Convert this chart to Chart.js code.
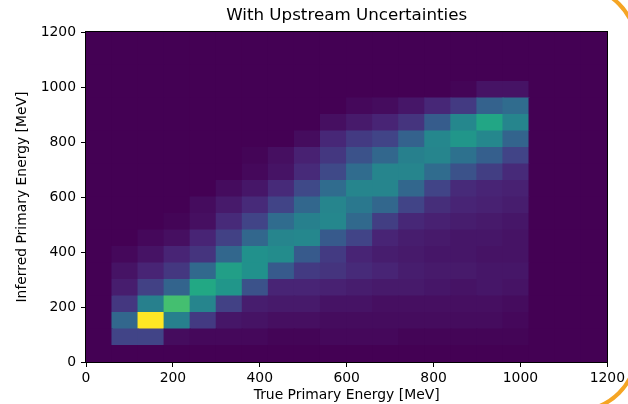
<!DOCTYPE html>
<html>
<head>
<meta charset="utf-8">
<title>With Upstream Uncertainties</title>
<script src="https://cdn.jsdelivr.net/npm/chart.js@4.4.1/dist/chart.umd.min.js"></script>
<style>
  html, body { margin: 0; padding: 0; background: #fff; }
  #wrap { position: relative; width: 628px; height: 404px; overflow: hidden; }
  #ring {
    position: absolute; left: -100px; top: -15px; width: 738px; height: 427px;
    border: 4px solid #f5a524; border-radius: 60px; box-sizing: border-box;
  }
  canvas { position: absolute; left: 0; top: 0; }
</style>
</head>
<body>
<div id="wrap">
  <div id="ring"></div>
  <canvas id="histChart" width="628" height="404"></canvas>
</div>
<script>
// bin edges in MeV (same for true and inferred energy)
const binEdges = [0, 60, 120, 180, 240, 300, 360, 420, 480, 540, 600,
  660, 720, 780, 840, 900, 960, 1020, 1080, 1140, 1200];
const energyTicks = [0, 200, 400, 600, 800, 1000, 1200];

// counts per bin, one array per inferred-energy row (bottom row first),
// each array runs along true energy
const countsByRow = [
  [0, 0, 0, 0, 0, 0, 0, 0, 0, 0, 0, 0, 0, 0, 0, 0, 0, 0, 0, 0],
  [0, 20, 20, 3, 2, 2, 2, 1, 1, 2, 2, 2, 1, 1, 1, 1, 1, 0, 0, 0],
  [0, 33, 100, 43, 17, 6, 5, 4, 4, 3, 3, 3, 3, 3, 3, 3, 2, 0, 0, 0],
  [0, 16, 43, 70, 45, 19, 8, 7, 7, 5, 5, 4, 4, 4, 4, 4, 3, 0, 0, 0],
  [0, 8, 19, 32, 60, 52, 25, 10, 10, 9, 8, 7, 7, 6, 5, 6, 5, 0, 0, 0],
  [0, 5, 10, 16, 34, 56, 50, 28, 17, 15, 12, 10, 8, 7, 7, 6, 6, 0, 0, 0],
  [0, 2, 5, 10, 15, 33, 50, 48, 28, 17, 10, 8, 7, 6, 6, 5, 5, 0, 0, 0],
  [0, 0, 2, 4, 10, 19, 33, 45, 46, 28, 20, 10, 8, 7, 6, 6, 5, 0, 0, 0],
  [0, 0, 0, 1, 4, 12, 20, 35, 43, 46, 34, 18, 11, 9, 8, 7, 6, 0, 0, 0],
  [0, 0, 0, 0, 3, 7, 12, 20, 33, 45, 40, 33, 20, 13, 10, 9, 8, 0, 0, 0],
  [0, 0, 0, 0, 0, 3, 6, 12, 22, 35, 45, 45, 33, 20, 12, 10, 9, 0, 0, 0],
  [0, 0, 0, 0, 0, 0, 2, 5, 12, 22, 35, 45, 45, 35, 25, 18, 12, 0, 0, 0],
  [0, 0, 0, 0, 0, 0, 1, 4, 9, 16, 25, 33, 43, 45, 37, 30, 20, 0, 0, 0],
  [0, 0, 0, 0, 0, 0, 0, 0, 3, 11, 17, 20, 31, 46, 52, 46, 32, 0, 0, 0],
  [0, 0, 0, 0, 0, 0, 0, 0, 0, 4, 7, 10, 15, 29, 46, 59, 45, 0, 0, 0],
  [0, 0, 0, 0, 0, 0, 0, 0, 0, 0, 2, 3, 6, 11, 17, 31, 35, 0, 0, 0],
  [0, 0, 0, 0, 0, 0, 0, 0, 0, 0, 0, 0, 0, 0, 1, 5, 5, 0, 0, 0],
  [0, 0, 0, 0, 0, 0, 0, 0, 0, 0, 0, 0, 0, 0, 0, 0, 0, 0, 0, 0],
  [0, 0, 0, 0, 0, 0, 0, 0, 0, 0, 0, 0, 0, 0, 0, 0, 0, 0, 0, 0],
  [0, 0, 0, 0, 0, 0, 0, 0, 0, 0, 0, 0, 0, 0, 0, 0, 0, 0, 0, 0]
];

// viridis colour map stops
const viridisStops = [
  [68, 1, 84], [72, 36, 117], [65, 68, 135], [53, 95, 141], [42, 120, 142],
  [33, 145, 140], [34, 168, 132], [68, 191, 112], [122, 209, 81],
  [189, 223, 38], [253, 231, 37]
];

function viridis(t) {
  t = Math.min(1, Math.max(0, t));
  const pos = t * (viridisStops.length - 1);
  const i = Math.min(Math.floor(pos), viridisStops.length - 2);
  const f = pos - i;
  const a = viridisStops[i];
  const b = viridisStops[i + 1];
  const c = a.map((v, k) => Math.round(v + (b[k] - v) * f));
  return `rgb(${c[0]}, ${c[1]}, ${c[2]})`;
}

const maxCount = Math.max(...countsByRow.flat());
const binCenters = binEdges.slice(0, -1).map((e, i) => (e + binEdges[i + 1]) / 2);

const datasets = countsByRow.map((row, j) => ({
  label: binEdges[j] + "-" + binEdges[j + 1] + " MeV",
  data: row.map(() => [binEdges[j], binEdges[j + 1]]),
  backgroundColor: row.map((c) => viridis(c / maxCount)),
  borderWidth: 0,
  inflateAmount: 0.6,
  barPercentage: 1,
  categoryPercentage: 1,
  grouped: false,
}));

const framePlugin = {
  id: "frame",
  afterDatasetsDraw(chart) {
    const { ctx, chartArea } = chart;
    ctx.save();
    ctx.strokeStyle = "#000";
    ctx.lineWidth = 1;
    ctx.strokeRect(
      Math.round(chartArea.left) - 0.5,
      Math.round(chartArea.top) - 0.5,
      Math.round(chartArea.right - chartArea.left) + 1,
      Math.round(chartArea.bottom - chartArea.top) + 1
    );
    ctx.restore();
  },
};

Chart.defaults.font.family = "'DejaVu Sans', sans-serif";
Chart.defaults.color = "#000";

const useTicks = (scale) => {
  scale.ticks = energyTicks.map((v) => ({ value: v }));
};

const ctx = document.getElementById("histChart").getContext("2d");

new Chart(ctx, {
  type: "bar",
  data: {
    labels: binCenters,
    datasets: datasets,
  },
  options: {
    responsive: false,
    animation: false,
    layout: { padding: { left: 0, right: 20, top: 0, bottom: 0 } },
    plugins: {
      legend: { display: false },
      tooltip: { enabled: false },
      title: {
        display: true,
        text: "With Upstream Uncertainties",
        fullSize: false,
        font: { size: 16.7, weight: "normal" },
        padding: { top: 6, bottom: 6 },
      },
    },
    scales: {
      x: {
        type: "category",
        offset: true,
        display: false,
      },
      x2: {
        type: "linear",
        position: "bottom",
        min: 0,
        max: 1200,
        offset: false,
        afterBuildTicks: useTicks,
        afterFit: (s) => { s.height = 42; },
        grid: { offset: false, drawOnChartArea: false, tickLength: 5, color: "#000", lineWidth: 1 },
        border: { display: false },
        ticks: {
          font: { size: 13.9 },
          padding: 3,
          maxRotation: 0,
          callback: (v) => String(v),
        },
        title: {
          display: true,
          text: "True Primary Energy [MeV]",
          font: { size: 13.9 },
          padding: { top: 0, bottom: 0 },
        },
      },
      y: {
        type: "linear",
        min: 0,
        max: 1200,
        afterBuildTicks: useTicks,
        afterFit: (s) => { s.width = 86; },
        grid: { drawOnChartArea: false, tickLength: 5, color: "#000", lineWidth: 1 },
        border: { display: false },
        ticks: { font: { size: 13.9 }, padding: 5, callback: (v) => String(v) },
        title: {
          display: true,
          text: "Inferred Primary Energy [MeV]",
          font: { size: 13.9 },
          padding: { top: 14, bottom: 0 },
        },
      },
    },
  },
  plugins: [framePlugin],
});
</script>
</body>
</html>
